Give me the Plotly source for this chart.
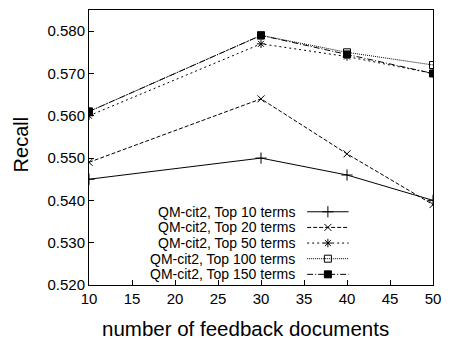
import plotly.graph_objects as go

# ---- data ----
feedback_docs = [10, 30, 40, 50]
top10 = [0.545, 0.550, 0.546, 0.540]
top20 = [0.549, 0.564, 0.551, 0.539]
top50 = [0.560, 0.577, 0.574, 0.570]
top100 = [0.561, 0.579, 0.575, 0.572]
top150 = [0.561, 0.579, 0.5745, 0.570]
series_names = [
    "QM-cit2, Top 10 terms",
    "QM-cit2, Top 20 terms",
    "QM-cit2, Top 50 terms",
    "QM-cit2, Top 100 terms",
    "QM-cit2, Top 150 terms",
]
x_ticks = [10, 15, 20, 25, 30, 35, 40, 45, 50]
y_ticks = [0.520, 0.530, 0.540, 0.550, 0.560, 0.570, 0.580]
x_title = "number of feedback documents"
y_title = "Recall"

# ---- styles ----
styles = [
    dict(dash="solid", symbol="cross-thin", size=8),
    dict(dash="4px,2px", symbol="x-thin", size=7),
    dict(dash="2px,3px", symbol="asterisk", size=7),
    dict(dash="1px,1px", symbol="square-open", size=7),
    dict(dash="6px,2px,1px,2px", symbol="square", size=7),
]
all_series = [top10, top20, top50, top100, top150]

FONT = "Liberation Sans, Arial, sans-serif"
W, H = 450, 340
L, R, T, B = 89, 12.5, 9, 55
PW, PH = W - L - R, H - T - B


def px_to_paper(px, py):
    return (px - L) / PW, (H - B - py) / PH


fig = go.Figure()

for name, ys, st in zip(series_names, all_series, styles):
    fig.add_trace(go.Scatter(
        x=feedback_docs, y=ys, name=name, mode="lines+markers",
        line=dict(color="black", width=1, dash=st["dash"]),
        marker=dict(symbol=st["symbol"], size=st["size"], color="black",
                    line=dict(color="black", width=1)),
        showlegend=False,
    ))

# ---- gnuplot-style key (text left, sample right), in pixel space of overlay axes ----
key_top, key_step = 211.5, 15.7
key_x0, key_x1, key_text_x = 310, 352, 299
for i, (name, st) in enumerate(zip(series_names, styles)):
    ry = key_top + i * key_step
    fig.add_trace(go.Scatter(
        x=[key_x0, key_x1], y=[ry, ry], mode="lines", xaxis="x2", yaxis="y2",
        line=dict(color="black", width=1, dash=st["dash"]), showlegend=False,
        hoverinfo="skip",
    ))
    fig.add_trace(go.Scatter(
        x=[(key_x0 + key_x1) / 2], y=[ry], mode="markers", xaxis="x2", yaxis="y2",
        marker=dict(symbol=st["symbol"], size=st["size"], color="black",
                    line=dict(color="black", width=1)),
        showlegend=False, hoverinfo="skip",
    ))
    fig.add_annotation(
        x=key_text_x, y=ry, xref="x2", yref="y2", text=name, showarrow=False,
        xanchor="right", yanchor="middle", borderpad=0,
        font=dict(family=FONT, size=14, color="black"),
    )

# axis titles (placed like the reference)
tx, ty = px_to_paper(248, 329)
fig.add_annotation(
    x=tx, y=ty, xref="paper", yref="paper", text=x_title, showarrow=False,
    xanchor="center", yanchor="middle", borderpad=0,
    font=dict(family=FONT, size=20.5, color="black"),
)
rx, ry_ = px_to_paper(20, 144)
fig.add_annotation(
    x=rx, y=ry_, xref="paper", yref="paper", text=y_title, showarrow=False,
    textangle=-90, xanchor="center", yanchor="middle", borderpad=0,
    font=dict(family=FONT, size=20, color="black"),
)

fig.update_layout(
    width=W, height=H,
    margin=dict(l=L, r=R, t=T, b=B, pad=0),
    paper_bgcolor="white", plot_bgcolor="white",
    font=dict(family=FONT, color="black"),
    xaxis=dict(
        range=[10, 50], tickvals=x_ticks, ticks="inside", ticklen=5,
        tickwidth=1, tickcolor="black", showline=True, linecolor="black",
        linewidth=1, mirror=True, showgrid=False, zeroline=False,
        tickfont=dict(size=15, family=FONT),
    ),
    yaxis=dict(
        range=[0.520, 0.585], tickvals=y_ticks, tickformat=".3f",
        ticks="inside", ticklen=5, tickwidth=1, tickcolor="black",
        showline=True, linecolor="black", linewidth=1, mirror=True,
        showgrid=False, zeroline=False,
        tickfont=dict(size=15, family=FONT),
    ),
    xaxis2=dict(range=[L, W - R], overlaying="x", visible=False, fixedrange=True),
    yaxis2=dict(range=[H - B, T], overlaying="y", visible=False, fixedrange=True),
)

fig.write_html("out.html")
